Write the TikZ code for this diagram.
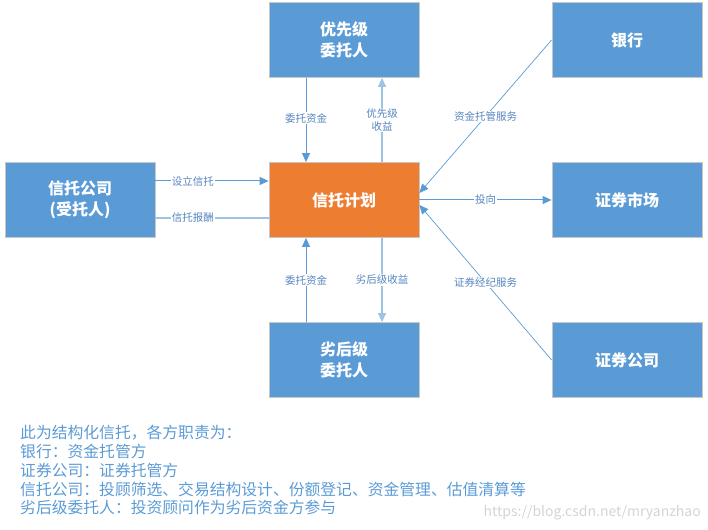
\documentclass[tikz,border=0pt]{standalone}
\usepackage{fontspec}
\setmainfont{Noto Sans CJK SC}
\usetikzlibrary{arrows.meta}
\definecolor{boxblue}{HTML}{5B9BD5}
\definecolor{boxorange}{HTML}{ED7D31}
\definecolor{lineblue}{HTML}{5B9BD5}
\definecolor{lightline}{HTML}{9DC3E6}
\definecolor{labelblue}{HTML}{5585C0}
\definecolor{marktext}{HTML}{D4D4D4}
\begin{document}
\begin{tikzpicture}[x=1pt,y=-1pt,
  box/.style={draw=black!22, line width=0.8pt, fill=boxblue, minimum width=150pt, minimum height=75pt,
    text=white, font=\fontsize{16}{21}\selectfont\bfseries, align=center, inner sep=0pt},
  lab/.style={fill=white, text=labelblue, font=\fontsize{10.5}{13}\selectfont, inner sep=1pt, align=center},
  arr/.style={-{Triangle[length=9pt,width=8pt]}, lineblue, line width=1pt},
  lightarr/.style={-{Triangle[length=9pt,width=8pt]}, lightline, line width=1.2pt},
  plainline/.style={lightline, line width=1.2pt},
  diag/.style={-{Triangle[length=9pt,width=8pt]}, lineblue, line width=0.7pt}]
\useasboundingbox (0,0) rectangle (708,529);

\node[box] (top) at (344,40) {优先级\\委托人};
\node[box] (left) at (80,200) {信托公司\\(受托人)};
\node[box, fill=boxorange] (ctr) at (344,200) {信托计划};
\node[box] (bank) at (627,40) {银行};
\node[box] (market) at (627,200) {证券市场};
\node[box] (company) at (627,360) {证券公司};
\node[box] (bottom) at (344,360) {劣后级\\委托人};

% top
\draw[arr] ([xshift=-38pt]top.south) -- node[lab, pos=0.48] {委托资金} ([xshift=-38pt]ctr.north);
\draw[lightarr] ([xshift=38pt]ctr.north) -- node[lab, pos=0.5] {优先级\\收益} ([xshift=38pt]top.south);
% left
\draw[arr] ([yshift=19pt]left.east) -- node[lab, pos=0.33] {设立信托} ([yshift=19pt]ctr.west);
\draw[plainline] ([yshift=-18pt]ctr.west) -- node[lab, pos=0.67] {信托报酬} ([yshift=-18pt]left.east);
% bottom
\draw[arr] ([xshift=-38pt]bottom.north) -- node[lab, pos=0.5] {委托资金} ([xshift=-38pt]ctr.south);
\draw[lightarr] ([xshift=38pt]ctr.south) -- node[lab, pos=0.5] {劣后级收益} ([xshift=38pt]bottom.north);
% right
\draw[diag] (bank.west) -- node[lab, pos=0.5] {资金托管服务} ([yshift=7pt]ctr.east);
\draw[arr] (ctr.east) -- node[lab, pos=0.5] {投向} (market.west);
\draw[diag] (company.west) -- node[lab, pos=0.5] {证券经纪服务} ([yshift=-5pt]ctr.east);

% notes
\node[anchor=north west, align=left, text=boxblue, font=\fontsize{15.8}{18.8}\selectfont, inner sep=0pt] (notes) at (20,425)
{此为结构化信托，各方职责为：\\
银行：资金托管方\\
证券公司：证券托管方\\
信托公司：投顾筛选、交易结构设计、份额登记、资金管理、估值清算等\\
劣后级委托人：投资顾问作为劣后资金方参与};

\node[anchor=base east, text=marktext, font=\fontsize{14}{16}\selectfont, inner sep=0pt] (mark) at (701,516) {https://blog.csdn.net/mryanzhao};
\end{tikzpicture}
\end{document}
